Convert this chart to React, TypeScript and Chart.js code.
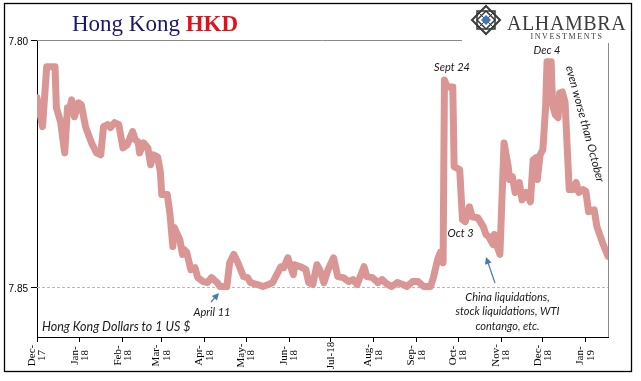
import React, { useEffect, useRef } from "react";
import { Chart, registerables } from "chart.js";

Chart.register(...registerables);

// ---- data ----
const axisStart = "2017-12-01";
const axisEnd = "2019-01-17";

const dates = [
  "2017-12-01","2017-12-05","2017-12-08","2017-12-14","2017-12-15","2017-12-18","2017-12-21","2017-12-23","2017-12-24","2017-12-26","2017-12-28","2017-12-31",
  "2018-01-02","2018-01-05","2018-01-08","2018-01-10","2018-01-13","2018-01-16","2018-01-18","2018-01-21","2018-01-23","2018-01-26","2018-01-29",
  "2018-02-01","2018-02-04","2018-02-08","2018-02-10","2018-02-12","2018-02-13","2018-02-16","2018-02-19","2018-02-21","2018-02-23","2018-02-26","2018-02-28",
  "2018-03-01","2018-03-05","2018-03-07","2018-03-09","2018-03-10","2018-03-14","2018-03-16","2018-03-17","2018-03-19","2018-03-22","2018-03-25","2018-03-27","2018-03-31",
  "2018-04-03","2018-04-06","2018-04-10","2018-04-12","2018-04-17","2018-04-19","2018-04-22","2018-04-25","2018-04-27","2018-04-29",
  "2018-05-02","2018-05-04","2018-05-09","2018-05-13","2018-05-17","2018-05-20","2018-05-23","2018-05-26","2018-05-28","2018-05-31",
  "2018-06-02","2018-06-04","2018-06-05","2018-06-09","2018-06-13","2018-06-15","2018-06-18","2018-06-21","2018-06-23","2018-06-26","2018-06-29",
  "2018-07-03","2018-07-06","2018-07-10","2018-07-14","2018-07-17","2018-07-20","2018-07-25","2018-07-27","2018-07-31",
  "2018-08-04","2018-08-07","2018-08-11","2018-08-14","2018-08-18","2018-08-22","2018-08-25","2018-08-29",
  "2018-09-02","2018-09-06","2018-09-11","2018-09-13","2018-09-16","2018-09-18","2018-09-20","2018-09-21","2018-09-23","2018-09-25","2018-09-27","2018-09-28",
  "2018-10-02","2018-10-04","2018-10-06","2018-10-09","2018-10-11","2018-10-15","2018-10-19","2018-10-21","2018-10-23","2018-10-26","2018-10-27","2018-10-29","2018-10-31",
  "2018-11-03","2018-11-06","2018-11-07","2018-11-09","2018-11-11","2018-11-14","2018-11-16","2018-11-19","2018-11-22","2018-11-24","2018-11-26","2018-11-27","2018-11-29",
  "2018-12-01","2018-12-03","2018-12-04","2018-12-07","2018-12-08","2018-12-10","2018-12-12","2018-12-13","2018-12-15","2018-12-17","2018-12-20","2018-12-23","2018-12-25","2018-12-27","2018-12-30",
  "2019-01-01","2019-01-03","2019-01-07","2019-01-09","2019-01-13","2019-01-17",
];

const rates = [
  7.8117, 7.8175, 7.8054, 7.8054, 7.8137, 7.8165, 7.8228, 7.8137, 7.8147, 7.8121, 7.8155, 7.8127,
  7.8131, 7.8175, 7.8198, 7.8212, 7.8228, 7.8232, 7.8175, 7.8171, 7.8177, 7.8167, 7.8171,
  7.8218, 7.8212, 7.8185, 7.8202, 7.8206, 7.8228, 7.8208, 7.8218, 7.8252, 7.8232, 7.8236, 7.8266,
  7.8312, 7.8312, 7.8353, 7.8417, 7.8379, 7.8403, 7.8433, 7.8423, 7.8429, 7.8464, 7.8460, 7.8480, 7.8488,
  7.8490, 7.8480, 7.8490, 7.8498, 7.8498, 7.8450, 7.8433, 7.8450, 7.8464, 7.8478,
  7.8480, 7.8490, 7.8494, 7.8498, 7.8494, 7.8490, 7.8474, 7.8458, 7.8460, 7.8440,
  7.8458, 7.8474, 7.8454, 7.8458, 7.8464, 7.8490, 7.8494, 7.8454, 7.8464, 7.8490, 7.8464,
  7.8440, 7.8478, 7.8480, 7.8488, 7.8484, 7.8494, 7.8458, 7.8478, 7.8480,
  7.8490, 7.8484, 7.8494, 7.8498, 7.8490, 7.8494, 7.8498, 7.8488,
  7.8488, 7.8498, 7.8498, 7.8480, 7.8444, 7.8429, 7.8450, 7.8081, 7.8095, 7.8095, 7.8095, 7.8256,
  7.8262, 7.8363, 7.8367, 7.8337, 7.8357, 7.8359, 7.8377, 7.8393, 7.8397, 7.8413, 7.8393, 7.8417, 7.8433,
  7.8208, 7.8256, 7.8282, 7.8276, 7.8308, 7.8288, 7.8323, 7.8308, 7.8327, 7.8242, 7.8238, 7.8282, 7.8232,
  7.8222, 7.8135, 7.8044, 7.8044, 7.8131, 7.8151, 7.8157, 7.8107, 7.8105, 7.8125, 7.8302, 7.8302, 7.8288, 7.8308, 7.8302,
  7.8306, 7.8347, 7.8343, 7.8377, 7.8409, 7.8437,
];

const tickDates = [
  "2017-12-01","2018-01-01","2018-02-01","2018-03-01","2018-04-01","2018-05-01","2018-06-01",
  "2018-07-01","2018-08-01","2018-09-01","2018-10-01","2018-11-01","2018-12-01","2019-01-01",
];
const tickLabels: string[][] = [
  ["Dec-", "17"], ["Jan-", "18"], ["Feb-", "18"], ["Mar-", "18"], ["Apr-", "18"], ["May-", "18"], ["Jun-", "18"],
  ["Jul-18"], ["Aug-", "18"], ["Sep-", "18"], ["Oct-", "18"], ["Nov-", "18"], ["Dec-", "18"], ["Jan-", "19"],
];
const yTicks = [7.8, 7.85];
const yMin = 7.8;
const yMax = 7.86;

const titleMain = "Hong Kong ";
const titleAccent = "HKD";
const unitsNote = "Hong Kong Dollars to 1 US $";
const chinaNote = ["China liquidations,", "stock liquidations, WTI", "contango, etc."];

function dayOf(s: string): number {
  const [y, m, d] = s.split("-").map(Number);
  const [y0, m0, d0] = axisStart.split("-").map(Number);
  return Math.round((Date.UTC(y, m - 1, d) - Date.UTC(y0, m0 - 1, d0)) / 86400000);
}

function arrow(ctx: CanvasRenderingContext2D, x1: number, y1: number, x2: number, y2: number, color: string) {
  const ang = Math.atan2(y2 - y1, x2 - x1);
  const hl = 7;
  const hw = 3.5;
  ctx.save();
  ctx.strokeStyle = color;
  ctx.fillStyle = color;
  ctx.lineWidth = 1.2;
  ctx.beginPath();
  ctx.moveTo(x1, y1);
  ctx.lineTo(x2 - Math.cos(ang) * hl * 0.8, y2 - Math.sin(ang) * hl * 0.8);
  ctx.stroke();
  ctx.beginPath();
  ctx.moveTo(x2, y2);
  ctx.lineTo(x2 - Math.cos(ang) * hl + Math.sin(ang) * hw, y2 - Math.sin(ang) * hl - Math.cos(ang) * hw);
  ctx.lineTo(x2 - Math.cos(ang) * hl - Math.sin(ang) * hw, y2 - Math.sin(ang) * hl + Math.cos(ang) * hw);
  ctx.closePath();
  ctx.fill();
  ctx.restore();
}

const overlayPlugin = {
  id: "overlay",
  beforeDraw(chart: any) {
    const { ctx, width, height } = chart;
    ctx.save();
    ctx.fillStyle = "#ffffff";
    ctx.fillRect(0, 0, width, height);
    ctx.restore();
  },
  beforeDatasetsDraw(chart: any) {
    const { ctx, chartArea: a, scales } = chart;
    const ys = scales.y;
    ctx.save();
    ctx.lineWidth = 1;
    ctx.strokeStyle = "#8a8a8a";
    const yTop = Math.round(ys.getPixelForValue(yTicks[0])) + 0.5;
    ctx.beginPath();
    ctx.moveTo(a.left, yTop);
    ctx.lineTo(a.right, yTop);
    ctx.stroke();
    ctx.beginPath();
    ctx.moveTo(Math.round(a.right) + 0.5, a.top);
    ctx.lineTo(Math.round(a.right) + 0.5, a.bottom);
    ctx.stroke();
    const y85 = Math.round(ys.getPixelForValue(yTicks[1])) + 0.5;
    ctx.strokeStyle = "#b8b8b8";
    ctx.setLineDash([3, 2]);
    ctx.beginPath();
    ctx.moveTo(a.left, y85);
    ctx.lineTo(a.right, y85);
    ctx.stroke();
    ctx.restore();
  },
  afterDraw(chart: any) {
    const { ctx, chartArea: a, scales } = chart;
    const xs = scales.x;
    ctx.save();

    // x-axis labels (rotated, two-line)
    ctx.font = '11px "Liberation Serif", "Times New Roman", serif';
    ctx.fillStyle = "#000";
    ctx.textAlign = "center";
    ctx.textBaseline = "middle";
    const lh = 10.5;
    tickDates.forEach((d, i) => {
      const px = xs.getPixelForValue(dayOf(d));
      const lines = tickLabels[i];
      lines.forEach((ln, j) => {
        const off = (j - (lines.length - 1) / 2) * lh;
        ctx.save();
        ctx.translate(px + off, a.bottom + 18.5);
        ctx.rotate(-Math.PI / 2);
        ctx.fillText(ln, 0, 0);
        ctx.restore();
      });
    });

    // title
    ctx.textAlign = "left";
    ctx.textBaseline = "alphabetic";
    ctx.font = '23px "Liberation Serif", "Times New Roman", serif';
    ctx.fillStyle = "#17176f";
    ctx.fillText(titleMain, 72, 31);
    const w = ctx.measureText(titleMain).width;
    ctx.font = 'bold 23px "Liberation Serif", "Times New Roman", serif';
    ctx.fillStyle = "#e0111b";
    ctx.fillText(titleAccent, 72 + w, 31);

    // logo box
    ctx.fillStyle = "#ffffff";
    ctx.fillRect(462, 5, 166, 38);
    const cx = 486, cy = 20;
    ctx.strokeStyle = "#3a3a3a";
    ctx.lineWidth = 2;
    ctx.beginPath();
    ctx.moveTo(cx, cy - 14); ctx.lineTo(cx + 14, cy); ctx.lineTo(cx, cy + 14); ctx.lineTo(cx - 14, cy); ctx.closePath();
    ctx.stroke();
    ctx.lineWidth = 1.5;
    ctx.strokeRect(cx - 9, cy - 9, 18, 18);
    ctx.beginPath();
    ctx.moveTo(cx, cy - 9); ctx.lineTo(cx + 9, cy); ctx.lineTo(cx, cy + 9); ctx.lineTo(cx - 9, cy); ctx.closePath();
    ctx.stroke();
    ctx.lineWidth = 1;
    ctx.beginPath();
    ctx.moveTo(cx - 9, cy - 9); ctx.lineTo(cx + 9, cy + 9);
    ctx.moveTo(cx + 9, cy - 9); ctx.lineTo(cx - 9, cy + 9);
    ctx.stroke();
    ctx.fillStyle = "#3f74b9";
    ctx.beginPath();
    ctx.moveTo(cx, cy - 5); ctx.lineTo(cx + 5, cy); ctx.lineTo(cx, cy + 5); ctx.lineTo(cx - 5, cy); ctx.closePath();
    ctx.fill();

    ctx.fillStyle = "#3b3b3b";
    ctx.font = '20px "Liberation Serif", "Times New Roman", serif';
    (ctx as any).letterSpacing = "0.6px";
    ctx.textAlign = "left";
    ctx.fillText("ALHAMBRA", 507, 29.5);
    ctx.font = '8px "Liberation Serif", "Times New Roman", serif';
    (ctx as any).letterSpacing = "1.6px";
    ctx.textAlign = "center";
    ctx.fillText("INVESTMENTS", 567, 38.5);
    (ctx as any).letterSpacing = "0px";

    // annotations
    ctx.fillStyle = "#1a1a1a";
    ctx.textBaseline = "middle";
    ctx.font = 'italic 12.5px Lato, "Liberation Sans", sans-serif';
    ctx.textAlign = "left";
    ctx.fillText(unitsNote, 42, 327);
    ctx.font = 'italic 11px Lato, "Liberation Sans", sans-serif';
    ctx.textAlign = "center";
    ctx.fillText("April 11", 212, 312);
    ctx.fillText("Sept 24", 452, 67.5);
    ctx.fillText("Oct 3", 460.5, 233.5);
    ctx.fillText("Dec 4", 547, 50.5);
    chinaNote.forEach((t, i) => ctx.fillText(t, 507.5, 297 + i * 14.8));
    ctx.save();
    ctx.font = 'italic 11.5px Lato, "Liberation Sans", sans-serif';
    ctx.translate(585, 124);
    ctx.rotate((74.8 * Math.PI) / 180);
    ctx.fillText("even worse than October", 0, 0);
    ctx.restore();

    arrow(ctx, 211, 302, 219, 293, "#4a78b8");
    arrow(ctx, 495, 283, 486, 257, "#4a78b8");

    // outer frame
    ctx.strokeStyle = "#000";
    ctx.lineWidth = 1.3;
    ctx.strokeRect(4.5, 3.5, 627, 368);
    ctx.restore();
  },
};

export default function App() {
  const ref = useRef<HTMLCanvasElement | null>(null);
  useEffect(() => {
    document.body.style.margin = "0";
    const canvas = ref.current;
    if (!canvas) return;
    const chart = new Chart(canvas, {
      type: "line",
      data: {
        datasets: [
          {
            data: dates.map((d, i) => ({ x: dayOf(d), y: rates[i] })),
            borderColor: "#d99694",
            borderWidth: 7,
            pointRadius: 0,
            tension: 0,
            fill: false,
            borderJoinStyle: "round",
            borderCapStyle: "round",
          },
        ],
      },
      options: {
        responsive: false,
        animation: false,
        devicePixelRatio: 1,
        layout: { padding: { top: 40, right: 33, left: 0, bottom: 0 } },
        plugins: { legend: { display: false }, tooltip: { enabled: false }, title: { display: false } },
        scales: {
          x: {
            type: "linear",
            min: 0,
            max: dayOf(axisEnd),
            afterBuildTicks: (s: any) => {
              s.ticks = tickDates.map((d) => ({ value: dayOf(d) }));
            },
            afterFit: (s: any) => {
              s.height = 44;
            },
            ticks: { display: false, autoSkip: false },
            grid: { drawOnChartArea: false, drawTicks: true, tickLength: 5, tickColor: "#000", color: "#000" },
            border: { display: true, color: "#000", width: 1 },
          },
          y: {
            type: "linear",
            reverse: true,
            min: yMin,
            max: yMax,
            afterBuildTicks: (s: any) => {
              s.ticks = yTicks.map((v) => ({ value: v }));
            },
            afterFit: (s: any) => {
              s.width = 37;
            },
            ticks: {
              callback: (v: any) => Number(v).toFixed(2),
              color: "#000",
              padding: 3,
              labelOffset: 2,
              font: { family: '"Liberation Sans Narrow", "Liberation Sans", Arial, sans-serif', size: 10 },
            },
            grid: { drawOnChartArea: false, drawTicks: true, tickLength: 6, tickColor: "#000", color: "#000" },
            border: { display: true, color: "#000", width: 1 },
          },
        },
      },
      plugins: [overlayPlugin],
    } as any);
    return () => chart.destroy();
  }, []);
  return (
    <div style={{ width: 641, height: 381 }}>
      <canvas ref={ref} width={641} height={381} style={{ display: "block" }} />
    </div>
  );
}
